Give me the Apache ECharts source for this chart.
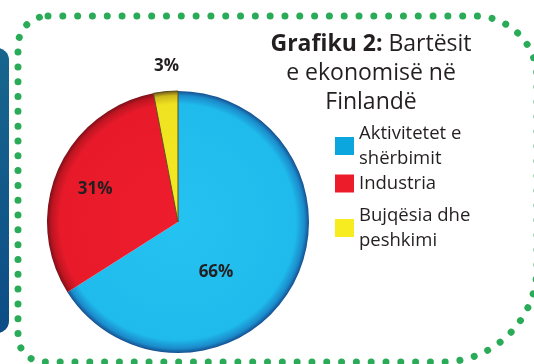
<!DOCTYPE html>
<html>
<head>
<meta charset="utf-8">
<script src="https://cdn.jsdelivr.net/npm/echarts@6/dist/echarts.min.js"></script>
<style>
  html, body { margin: 0; padding: 0; background: #ffffff; }
  #chart { width: 534px; height: 364px; }
</style>
</head>
<body>
<div id="chart"></div>
<script>
// Economic sectors of Finland, share of the economy (%)
const sectors = ['Aktivitetet e shërbimit', 'Industria', 'Bujqësia dhe peshkimi'];
const shares = [66, 31, 3];
const legendLines = ['Aktivitetet e\nshërbimit', 'Industria', 'Bujqësia dhe\npeshkimi'];
const titleBold = 'Grafiku 2:';
const titleRest = ['Bartësit', 'e ekonomisë në', 'Finlandë'];

const FONT = '"Open Sans", "Noto Sans", sans-serif';
const INK = '#231f20';
const CX = 178, CY = 222, R = 131;

// flat swatch colour, then centre -> body -> darker rim, per sector
const swatches = ['#0ca6de', '#ec1c2a', '#f6ec1f'];
const palettes = [
  ['#25c3f1', '#1fbbec', '#1b8ccc', '#154f8e'],
  ['#ee1d2d', '#e81a2a', '#bf1521', '#7c1019'],
  ['#f5e924', '#efe220', '#cdb91b', '#6e5a18']
];
function shade(p) {
  return {
    type: 'radial', x: CX, y: CY, r: R, global: true,
    colorStops: [
      { offset: 0, color: p[0] },
      { offset: 0.9, color: p[1] },
      { offset: 0.965, color: p[2] },
      { offset: 1, color: p[3] }
    ]
  };
}
// label shifts from the default "inside" spot
const labelNudge = [[-22, 17], [-20, -6], [-5, -88]];
const legendTops = [121, 171, 203];

const chart = echarts.init(document.getElementById('chart'), null, { renderer: 'canvas' });

chart.setOption({
  backgroundColor: '#ffffff',
  animation: false,
  legend: sectors.map((name, i) => ({
    data: [{ name, itemStyle: { color: swatches[i], borderWidth: 0 } }],
    left: 335,
    top: legendTops[i],
    orient: 'vertical',
    padding: 0,
    icon: 'rect',
    itemWidth: 19,
    itemHeight: 18,
    selectedMode: false,
    formatter: n => legendLines[sectors.indexOf(n)],
    textStyle: { fontFamily: FONT, fontSize: 18.5, lineHeight: 25, color: INK }
  })),
  graphic: [
    {
      type: 'rect', silent: true, z: -1,
      shape: { x: -30, y: 48, width: 39, height: 285, r: 12 },
      style: {
        fill: {
          type: 'linear', x: 0, y: 0, x2: 0, y2: 1,
          colorStops: [{ offset: 0, color: '#17668e' }, { offset: 1, color: '#0d4c86' }]
        }
      }
    },
    {
      type: 'rect', silent: true, z: -1,
      shape: { x: 18, y: 16, width: 519, height: 346, r: [30, 62, 95, 26] },
      style: {
        fill: null, stroke: '#2aab57', lineWidth: 7,
        lineDash: [0.01, 14.8], lineCap: 'round'
      }
    },
    {
      type: 'text', silent: true,
      x: 371, y: 30,
      style: {
        text: '{b|' + titleBold + '} {n|' + titleRest[0] + '}\n{n|' + titleRest[1] + '}\n{n|' + titleRest[2] + '}',
        align: 'center',
        fill: INK,
        fontFamily: FONT,
        fontSize: 23,
        lineHeight: 29,
        rich: {
          b: { fontFamily: FONT, fontSize: 23, fontWeight: 'bold', fill: INK, lineHeight: 29 },
          n: { fontFamily: FONT, fontSize: 23, fill: INK, lineHeight: 29 }
        }
      }
    }
  ],
  series: [{
    type: 'pie',
    center: [CX, CY],
    radius: R,
    startAngle: 90,
    clockwise: true,
    silent: true,
    data: sectors.map((name, i) => ({
      name,
      value: shares[i],
      itemStyle: {
        color: shade(palettes[i]),
        borderColor: i === 2 ? '#5e4b1c' : 'rgba(0,0,0,0)',
        borderWidth: i === 2 ? 1 : 0
      }
    })),
    label: {
      show: true,
      position: 'inside',
      formatter: '{c}%',
      fontFamily: FONT,
      fontSize: 17,
      fontWeight: 'bold',
      color: INK
    },
    labelLine: { show: false },
    labelLayout: p => ({ dx: labelNudge[p.dataIndex][0], dy: labelNudge[p.dataIndex][1] })
  }],
  color: swatches
});
</script>
</body>
</html>
